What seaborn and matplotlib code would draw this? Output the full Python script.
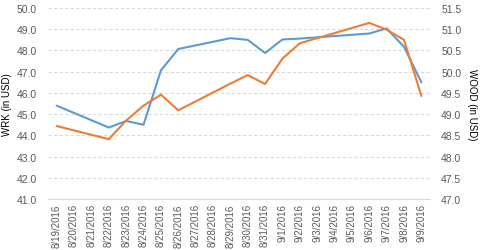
import matplotlib
matplotlib.use("Agg")
import matplotlib.pyplot as plt
import seaborn as sns
import numpy as np
import pandas as pd

dates = ["8/19/2016", "8/20/2016", "8/21/2016", "8/22/2016", "8/23/2016", "8/24/2016",
         "8/25/2016", "8/26/2016", "8/27/2016", "8/28/2016", "8/29/2016", "8/30/2016",
         "8/31/2016", "9/1/2016", "9/2/2016", "9/3/2016", "9/4/2016", "9/5/2016",
         "9/6/2016", "9/7/2016", "9/8/2016", "9/9/2016"]
wrk = [45.4, None, None, 44.37, 44.68, 44.5, 47.06, 48.07, None, None, 48.58, 48.5,
       47.88, 48.52, 48.56, None, None, None, 48.8, 49.04, 48.17, 46.5]
wood = [48.72, None, None, 48.41, 48.85, 49.2, 49.46, 49.09, None, None, 49.72, 49.92,
        49.71, 50.31, 50.67, None, None, None, 51.15, 50.99, 50.75, 49.43]

sns.set_theme(style="white")
plt.rcParams['font.family'] = ['Liberation Sans', 'DejaVu Sans']

df = pd.DataFrame({"pos": np.arange(len(dates)), "date": dates,
                   "WRK": pd.to_numeric(pd.Series(wrk), errors="coerce"),
                   "WOOD": pd.to_numeric(pd.Series(wood), errors="coerce")})

fig = plt.figure(figsize=(4.8, 2.51), dpi=100)
ax = fig.add_axes([0.1, 0.203, 0.796, 0.761])
ax2 = ax.twinx()

d1 = df.dropna(subset=["WRK"])
d2 = df.dropna(subset=["WOOD"])
sns.lineplot(data=d1, x="pos", y="WRK", ax=ax, color="#5B9BD5", linewidth=1.5, legend=False)
sns.lineplot(data=d2, x="pos", y="WOOD", ax=ax2, color="#ED7D31", linewidth=1.5, legend=False)

ax.set_xlim(-0.5, len(dates) - 0.5)
ax.set_ylim(41.0, 50.0)
ax2.set_ylim(47.0, 51.5)
ax.set_yticks(np.arange(41.0, 50.01, 1.0))
ax2.set_yticks(np.arange(47.0, 51.51, 0.5))
ax.set_yticklabels([f"{v:.1f}" for v in np.arange(41.0, 50.01, 1.0)])
ax2.set_yticklabels([f"{v:.1f}" for v in np.arange(47.0, 51.51, 0.5)])

ax.set_xticks(np.arange(len(dates)))
ax.set_xticklabels(dates, rotation=90)
ax.set_xticks(np.arange(-0.5, len(dates), 1.0), minor=True)
ax.tick_params(axis="x", which="major", length=0, pad=3, labelsize=7, colors="#595959")
ax.tick_params(axis="x", which="minor", length=4, color="#D9D9D9", width=0.8)
ax.tick_params(axis="y", length=0, labelsize=7.5, colors="#595959", pad=8)
ax2.tick_params(axis="y", length=0, labelsize=7.5, colors="#595959", pad=8)

ax.grid(axis="y", color="#D9D9D9", linestyle=(0, (3, 2)), linewidth=0.8)
ax.set_axisbelow(True)
for a in (ax, ax2):
    for s in ("top", "left", "right", "bottom"):
        a.spines[s].set_visible(False)
ax.spines["bottom"].set_visible(True)
ax.spines["bottom"].set_color("#D9D9D9")
ax.spines["bottom"].set_linewidth(0.8)

ax.set_xlabel("")
ax.set_ylabel("WRK (in USD)", fontsize=7, color="#000000")
ax.yaxis.set_label_coords(-0.095, 0.5)
ax2.set_ylabel("WOOD (in USD)", fontsize=7, color="#000000", rotation=-90, va="center")
ax2.yaxis.set_label_coords(1.11, 0.5)

fig.savefig("out.png", dpi=100)
